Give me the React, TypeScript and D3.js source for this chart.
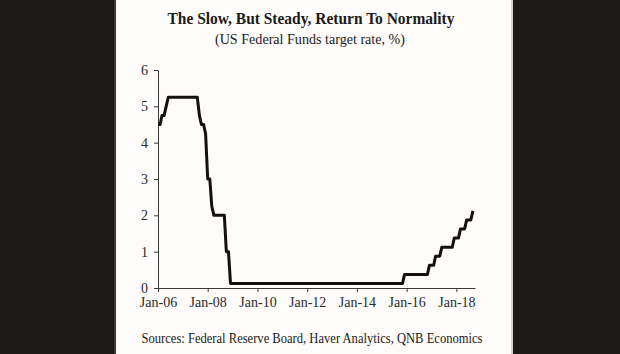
import React, { useEffect, useRef } from 'react';
import * as d3 from 'd3';

// US Federal Funds target rate, month-end values (midpoint of the range after Dec 2008)
const rate2006 = [4.5, 4.5, 4.75, 4.75, 5.0, 5.25, 5.25, 5.25, 5.25, 5.25, 5.25, 5.25];
const rate2007 = [5.25, 5.25, 5.25, 5.25, 5.25, 5.25, 5.25, 5.25, 4.75, 4.5, 4.5, 4.25];
const rate2008 = [3.0, 3.0, 2.25, 2.0, 2.0, 2.0, 2.0, 2.0, 2.0, 1.0, 1.0, 0.125];
const rate2009 = [0.125, 0.125, 0.125, 0.125, 0.125, 0.125, 0.125, 0.125, 0.125, 0.125, 0.125, 0.125];
const rate2010 = [0.125, 0.125, 0.125, 0.125, 0.125, 0.125, 0.125, 0.125, 0.125, 0.125, 0.125, 0.125];
const rate2011 = [0.125, 0.125, 0.125, 0.125, 0.125, 0.125, 0.125, 0.125, 0.125, 0.125, 0.125, 0.125];
const rate2012 = [0.125, 0.125, 0.125, 0.125, 0.125, 0.125, 0.125, 0.125, 0.125, 0.125, 0.125, 0.125];
const rate2013 = [0.125, 0.125, 0.125, 0.125, 0.125, 0.125, 0.125, 0.125, 0.125, 0.125, 0.125, 0.125];
const rate2014 = [0.125, 0.125, 0.125, 0.125, 0.125, 0.125, 0.125, 0.125, 0.125, 0.125, 0.125, 0.125];
const rate2015 = [0.125, 0.125, 0.125, 0.125, 0.125, 0.125, 0.125, 0.125, 0.125, 0.125, 0.125, 0.375];
const rate2016 = [0.375, 0.375, 0.375, 0.375, 0.375, 0.375, 0.375, 0.375, 0.375, 0.375, 0.375, 0.625];
const rate2017 = [0.625, 0.625, 0.875, 0.875, 0.875, 1.125, 1.125, 1.125, 1.125, 1.125, 1.125, 1.375];
const rate2018 = [1.375, 1.375, 1.625, 1.625, 1.625, 1.875, 1.875, 1.875, 2.125];

const rates = [
    ...rate2006, ...rate2007, ...rate2008, ...rate2009, ...rate2010, ...rate2011, ...rate2012,
    ...rate2013, ...rate2014, ...rate2015, ...rate2016, ...rate2017, ...rate2018
];

const yTicks = [0, 1, 2, 3, 4, 5, 6];
const xStart = new Date(2006, 0, 1);
const xEnd = new Date(2018, 9, 1);

const title = 'The Slow, But Steady, Return To Normality';
const subtitle = '(US Federal Funds target rate, %)';
const source = 'Sources: Federal Reserve Board, Haver Analytics, QNB Economics';

const W = 620, H = 354;

function Chart() {
    const el = useRef<SVGSVGElement | null>(null);

    useEffect(() => {
        const svg = d3.select(el.current);
        svg.selectAll('*').remove();

        const serif = '"Liberation Serif", "Times New Roman", serif';
        const ink = '#1c1a18';

        // dark frame with a white card in the middle
        svg.append('rect').attr('width', W).attr('height', H).attr('fill', '#1c1916');
        svg.append('rect').attr('x', 114).attr('width', 2).attr('height', H).attr('fill', '#3a3937');
        svg.append('rect').attr('x', 116).attr('width', 395).attr('height', H).attr('fill', '#fdfcfa');
        svg.append('rect').attr('x', 511).attr('width', 2).attr('height', H).attr('fill', '#d8d6d3');

        svg.append('text')
            .attr('x', 311).attr('y', 24)
            .attr('text-anchor', 'middle')
            .attr('textLength', 287).attr('lengthAdjust', 'spacingAndGlyphs')
            .style('font-family', serif).style('font-size', '16px').style('font-weight', 'bold')
            .attr('fill', ink)
            .text(title);

        svg.append('text')
            .attr('x', 310).attr('y', 44)
            .attr('text-anchor', 'middle')
            .attr('textLength', 190).attr('lengthAdjust', 'spacingAndGlyphs')
            .style('font-family', serif).style('font-size', '14px')
            .attr('fill', ink)
            .text(subtitle);

        const months = d3.timeMonth.range(xStart, xEnd).slice(0, rates.length);
        const data = months.map((d, i) => ({ date: d, value: rates[i] }));

        const x = d3.scaleTime().domain([xStart, xEnd]).range([158, 475]);
        const y = d3.scaleLinear().domain([0, 6]).range([288, 70]);

        // y axis
        const yAxis = svg.append('g')
            .attr('transform', `translate(${x.range()[0]},0)`)
            .call(d3.axisLeft(y).tickValues(yTicks).tickSize(4).tickSizeOuter(0).tickPadding(6).tickFormat(d3.format('d')));
        yAxis.select('.domain').attr('stroke', '#3a3a3a');
        yAxis.selectAll('.tick line').attr('stroke', '#3a3a3a');
        yAxis.selectAll('.tick text')
            .style('font-family', serif).style('font-size', '14px').attr('fill', '#2a2a2a');

        // x axis
        const xAxis = svg.append('g')
            .attr('transform', `translate(0,${y(0)})`)
            .call(d3.axisBottom(x).ticks(d3.timeYear.every(2)).tickSize(4).tickSizeOuter(0).tickPadding(5)
                .tickFormat((d) => d3.timeFormat('%b-%y')(d as Date)));
        xAxis.select('.domain').attr('stroke', '#3a3a3a');
        xAxis.selectAll('.tick line').attr('stroke', '#3a3a3a');
        xAxis.selectAll('.tick text')
            .style('font-family', serif).style('font-size', '14px').attr('fill', '#2a2a2a')
            .attr('dy', '0.71em');

        const line = d3.line<{ date: Date; value: number }>()
            .x(d => x(d.date))
            .y(d => y(d.value));

        svg.append('path')
            .datum(data)
            .attr('fill', 'none')
            .attr('stroke', '#121110')
            .attr('stroke-width', 3)
            .attr('stroke-linejoin', 'round')
            .attr('d', line);

        svg.append('text')
            .attr('x', 312).attr('y', 343)
            .attr('text-anchor', 'middle')
            .attr('textLength', 341).attr('lengthAdjust', 'spacingAndGlyphs')
            .style('font-family', serif).style('font-size', '14px')
            .attr('fill', ink)
            .text(source);
    }, []);

    return <svg ref={el} width={W} height={H} style={{ position: 'absolute', left: 0, top: 0 }} />;
}

export default function App() {
    return <Chart />;
}
